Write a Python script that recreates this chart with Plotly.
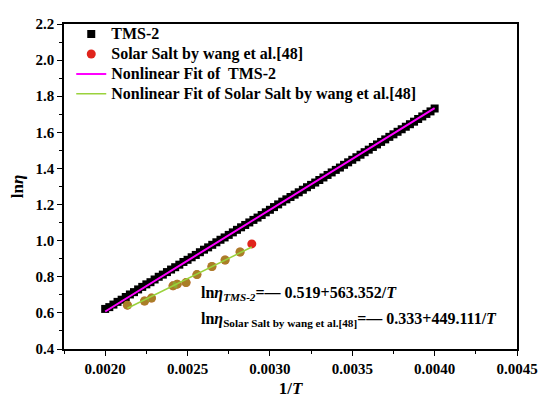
import plotly.graph_objects as go

# ── Data ─────────────────────────────────────────────────────────────────────
TMS_X = [0.002000, 0.002025, 0.002050, 0.002075, 0.002100, 0.002125, 0.002150, 0.002175,
         0.002200, 0.002225, 0.002250, 0.002275, 0.002300, 0.002325, 0.002350, 0.002375,
         0.002400, 0.002425, 0.002450, 0.002475, 0.002500, 0.002525, 0.002550, 0.002575,
         0.002600, 0.002625, 0.002650, 0.002675, 0.002700, 0.002725, 0.002750, 0.002775,
         0.002800, 0.002825, 0.002850, 0.002875, 0.002900, 0.002925, 0.002950, 0.002975,
         0.003000, 0.003025, 0.003050, 0.003075, 0.003100, 0.003125, 0.003150, 0.003175,
         0.003200, 0.003225, 0.003250, 0.003275, 0.003300, 0.003325, 0.003350, 0.003375,
         0.003400, 0.003425, 0.003450, 0.003475, 0.003500, 0.003525, 0.003550, 0.003575,
         0.003600, 0.003625, 0.003650, 0.003675, 0.003700, 0.003725, 0.003750, 0.003775,
         0.003800, 0.003825, 0.003850, 0.003875, 0.003900, 0.003925, 0.003950, 0.003975,
         0.004000]
TMS_Y = [0.622, 0.632, 0.646, 0.661, 0.673, 0.688, 0.702, 0.715,
         0.730, 0.744, 0.758, 0.770, 0.785, 0.800, 0.812, 0.826,
         0.840, 0.853, 0.867, 0.882, 0.894, 0.908, 0.921, 0.936,
         0.950, 0.963, 0.977, 0.991, 1.005, 1.018, 1.032, 1.046,
         1.060, 1.074, 1.087, 1.101, 1.115, 1.128, 1.142, 1.157,
         1.171, 1.186, 1.201, 1.216, 1.229, 1.242, 1.255, 1.268,
         1.282, 1.296, 1.309, 1.322, 1.336, 1.350, 1.364, 1.378,
         1.392, 1.405, 1.420, 1.434, 1.448, 1.462, 1.476, 1.490,
         1.504, 1.519, 1.533, 1.547, 1.561, 1.575, 1.589, 1.603,
         1.617, 1.631, 1.645, 1.659, 1.674, 1.688, 1.702, 1.716,
         1.732]

SALT_X = [0.002135, 0.002239, 0.002281, 0.002412, 0.002437, 0.002491,
          0.002557, 0.002648, 0.002728, 0.002819, 0.002890]
SALT_Y = [0.643, 0.666, 0.682, 0.750, 0.759, 0.768,
          0.812, 0.857, 0.893, 0.937, 0.982]

# fitted coefficients printed on the chart: ln(eta) = A + B * (1/T)
TMS_FIT = (-0.519, 563.352)
SALT_FIT = (-0.333, 449.111)

X_TICKS = [0.0020, 0.0025, 0.0030, 0.0035, 0.0040, 0.0045]
Y_TICKS = [0.4, 0.6, 0.8, 1.0, 1.2, 1.4, 1.6, 1.8, 2.0, 2.2]

FONT = "Liberation Serif, Times New Roman, serif"


def fit_line(coef, xs):
    a, b = coef
    return [a + b * x for x in xs]


def leg(name):
    # bigger text than the legend font, so rows stay tight like the original
    return f'<span style="font-size:16px"><b>{name}</b></span>'


tms_fit_x = [TMS_X[0], TMS_X[-1]]
salt_fit_x = [SALT_X[0], SALT_X[-1]]

fig = go.Figure()

fig.add_trace(go.Scatter(
    x=TMS_X, y=TMS_Y, mode="markers", name=leg("TMS-2"),
    marker=dict(symbol="square", size=8, color="black"),
))
fig.add_trace(go.Scatter(
    x=SALT_X, y=SALT_Y, mode="markers", name=leg("Solar Salt by wang et al.[48]"),
    marker=dict(symbol="circle", size=9, color="#e0241c"),
))
# greenish tint over most of the red circles, as in the original
fig.add_trace(go.Scatter(
    x=SALT_X[:-1], y=SALT_Y[:-1], mode="markers", showlegend=False,
    marker=dict(symbol="circle", size=9, color="#7cc832", opacity=0.55),
    hoverinfo="skip",
))
fig.add_trace(go.Scatter(
    x=tms_fit_x, y=fit_line(TMS_FIT, tms_fit_x), mode="lines",
    name=leg("Nonlinear Fit of  TMS-2"),
    line=dict(color="#ff00ff", width=2),
))
fig.add_trace(go.Scatter(
    x=salt_fit_x, y=fit_line(SALT_FIT, salt_fit_x), mode="lines",
    name=leg("Nonlinear Fit of Solar Salt by wang et al.[48]"),
    line=dict(color="#9ad23c", width=1.5),
))

axis_common = dict(
    showline=True, mirror=True, linecolor="black", linewidth=1.5,
    ticks="outside", ticklen=5, tickwidth=1.2, tickcolor="black",
    showgrid=False, zeroline=False,
    tickfont=dict(family=FONT, size=15, color="black", weight="bold"),
    minor=dict(ticks="outside", ticklen=3, tickwidth=1, tickcolor="black"),
)

fig.update_xaxes(
    range=[0.00175, 0.0045], tickvals=X_TICKS,
    ticktext=[f"{v:.4f}" for v in X_TICKS],
    minor_dtick=0.00025, minor_tick0=0.0,
    title=dict(text="<b>1/<i>T</i></b>", font=dict(family=FONT, size=17, color="black"),
               standoff=6),
    **axis_common,
)
fig.update_yaxes(
    range=[0.4, 2.2], tickvals=Y_TICKS,
    ticktext=[f"{v:.1f}" for v in Y_TICKS],
    minor_dtick=0.1, minor_tick0=0.0,
    title=dict(text="<b>ln<i>η</i></b>", font=dict(family=FONT, size=17, color="black"),
               standoff=8),
    **axis_common,
)

fig.add_annotation(
    x=0.00257, y=0.705, xref="x", yref="y", xanchor="left", showarrow=False,
    text="<b>ln<i>η</i><sub><i>TMS-2</i></sub>=\u2014 0.519+563.352/<i>T</i></b>",
    font=dict(family=FONT, size=16, color="black"),
)
fig.add_annotation(
    x=0.00257, y=0.561, xref="x", yref="y", xanchor="left", showarrow=False,
    text="<b>ln<i>η</i><sub>Solar Salt by wang et al.[48]</sub>=\u2014 0.333+449.111/<i>T</i></b>",
    font=dict(family=FONT, size=16, color="black"),
)

# the page puts the figure 8 px in from the top-left corner
fig.update_layout(
    width=542, height=395,
    margin=dict(l=54, r=33, t=8, b=51),
    paper_bgcolor="white", plot_bgcolor="white",
    showlegend=True,
    legend=dict(
        x=0.016, y=1.015, xanchor="left", yanchor="top",
        bgcolor="rgba(0,0,0,0)", borderwidth=0,
        font=dict(family=FONT, size=13, color="black", weight="bold"),
        itemwidth=30,
    ),
)

fig.write_html("out.html")
